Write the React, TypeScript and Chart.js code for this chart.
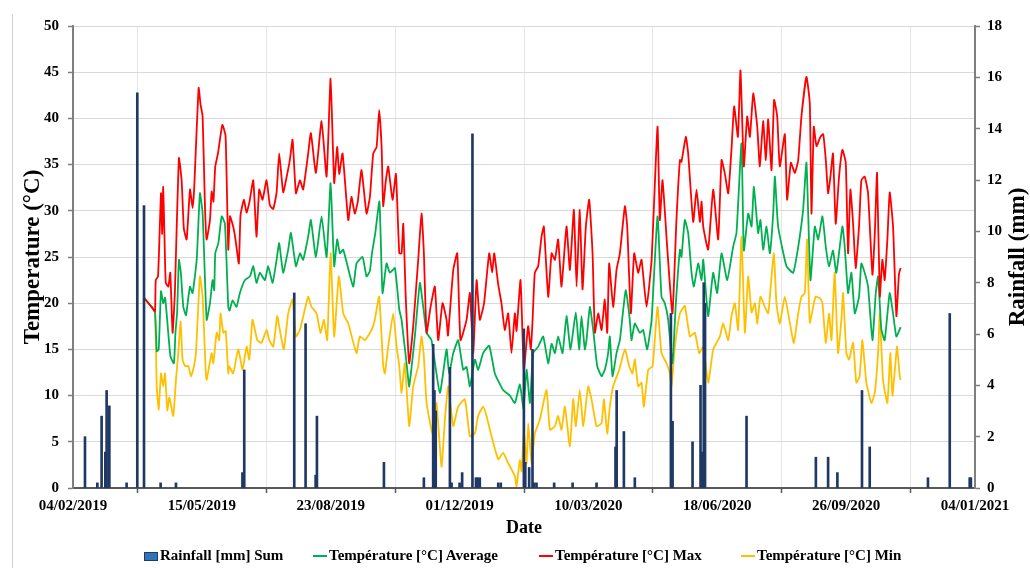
import React, { useEffect, useRef } from 'react';
import { Chart, registerables } from 'chart.js';

Chart.register(...registerables);

// x = days since 04/02/2019
const xTickLabels = ['04/02/2019', '15/05/2019', '23/08/2019', '01/12/2019', '10/03/2020', '18/06/2020', '26/09/2020', '04/01/2021'];

const rainfall: [number, number][] = [
  [9.3, 2.0], [18.9, 0.2], [22.2, 2.8], [25.1, 1.4], [26.1, 3.8], [28.2, 3.2], [41.6, 0.2], [49.9, 15.4], [55.1, 11.0],
  [68, 0.2], [79.9, 0.2], [131.5, 0.6], [132.9, 4.6], [171.7, 7.6], [180.5, 6.4], [188.3, 0.5], [189.3, 2.8], [241.3, 1.0],
  [272.3, 0.4], [279.5, 5.6], [280.5, 3.8], [281.5, 3.0], [292.5, 4.7], [293.8, 0.2], [300, 0.2], [302, 0.6], [310, 13.8],
  [312.7, 0.4], [314, 0.4], [315.7, 0.4], [330, 0.2], [332, 0.2], [349.9, 6.2], [351, 1.0], [354, 0.8], [356.6, 5.4],
  [357.8, 0.2], [359.7, 0.2], [373.4, 0.2], [387.7, 0.2], [406.3, 0.2], [421, 1.6], [421.9, 3.8], [427.5, 2.2], [436, 0.4],
  [464, 6.8], [465.3, 2.6], [480.8, 1.8], [487, 4.0], [488.3, 1.4], [489.5, 8.0], [490.5, 7.2], [522.7, 2.8], [576.5, 1.2],
  [586, 1.2], [593.2, 0.6], [612.3, 3.8], [618.3, 1.6], [663.5, 0.4], [680.4, 6.8], [695.9, 0.4], [696.8, 0.4],
];

const tempMax: [number, number][] = [
  [55, 20.6], [58, 20.1], [61, 19.6], [63.6, 19.1], [64.2, 22.5], [66, 22.9], [68.3, 31.9], [69.2, 27.5], [70, 32.6], [71, 27.2],
  [72, 22.2], [74, 21.8], [75.5, 23.3], [77.3, 16.8], [79, 21], [82.2, 35.7], [84.3, 33.3], [86, 28.1], [88.2, 26.9], [90.8, 32.3],
  [92.8, 30.3], [94, 32.3], [97.5, 43.3], [99, 41.5], [100.6, 40.2], [102.4, 30.5], [103.7, 26.9], [106.3, 29], [107.6, 32.1], [109, 31],
  [110.4, 34.8], [112.5, 36.2], [115.9, 39.3], [118.4, 38.1], [120.5, 25.8], [121.8, 29.4], [124.3, 28.3], [126, 27], [128.7, 24.3], [130, 29.5],
  [132.6, 31.2], [134.7, 29.8], [137, 31], [139.9, 33.3], [142.4, 27.2], [144.5, 32.3], [147.1, 31.2], [150.2, 33.3], [152.8, 30.6], [155.4, 30.2],
  [158, 32], [160, 36.2], [163.1, 32], [165.7, 33.6], [168.3, 35.5], [170.4, 37.7], [173, 31.9], [176.1, 33.3], [178.6, 32.3], [182.5, 36.2],
  [184.6, 38.4], [188.5, 34.1], [192.9, 39.7], [196.8, 33.7], [199.9, 44.3], [202.7, 33], [205, 36.9], [206.6, 34], [209.2, 36.2], [213.6, 29],
  [216.1, 31.5], [218.7, 29.7], [221, 31], [223.9, 34.4], [227.8, 29.7], [230.4, 31.5], [233, 36.2], [235.6, 36.9], [237.6, 40.9], [239.5, 36.9],
  [240.7, 30.5], [242.8, 33.3], [244.6, 34.8], [248, 31.2], [250.6, 34], [253.2, 25.4], [255, 25.4], [256.3, 28.6], [258.3, 20.4], [260.9, 13.5],
  [264, 17.5], [267.9, 24.7], [270.5, 29.7], [272.3, 25.4], [274.4, 16.8], [277.5, 19.6], [280.8, 21.8], [283.4, 16], [286.8, 20], [289.9, 18.2],
  [291, 16.5], [295.1, 23.6], [298.2, 25.4], [300.7, 16], [305.4, 18.2], [308, 21.1], [310.6, 14.6], [313.2, 22.5], [315.7, 18.2], [319, 20],
  [323, 25.4], [325.3, 23.3], [326.9, 25.4], [330, 22], [332.5, 20], [335.1, 17.1], [337.7, 18.9], [340.3, 14.6], [342.9, 18.9], [344.2, 17],
  [347.3, 22.5], [349.9, 12.8], [353.2, 17.5], [355.3, 15], [356.6, 18], [358.4, 23.3], [361, 24], [363.6, 27.2], [365.4, 28.3], [368.8, 20.7],
  [371.4, 25.4], [374, 24.7], [376.5, 26.9], [379.1, 21.8], [383, 28.3], [385.6, 23.6], [388.7, 30.1], [390.8, 21.8], [393.3, 30.1], [395.4, 21.5],
  [398, 28.3], [400.6, 31.2], [403.2, 25.4], [405, 16.8], [407.6, 18.9], [410.2, 17.1], [412.7, 20.4], [414.6, 16.8], [416.1, 24.3], [419.2, 19.6],
  [421.8, 23.6], [424.4, 25.4], [428.3, 30.5], [430.1, 28.3], [432.9, 18.9], [435.5, 25.4], [438.6, 23.3], [441.2, 24.7], [445.1, 19.6], [449, 24.7],
  [453.6, 39.1], [455.4, 29], [457.5, 33.3], [461.1, 26.1], [465.2, 18.9], [468.3, 29], [471, 35.5], [472.2, 35.3], [475.6, 38], [477.4, 36.2],
  [481.3, 28.8], [483.9, 32.3], [486.5, 28.8], [487.8, 31], [489.1, 28.3], [492.9, 25.8], [496.8, 32.3], [500.7, 26.9], [503.3, 35.5], [505.9, 34],
  [508.5, 31.9], [511, 36.6], [513.1, 41.3], [516, 38], [518, 45.2], [520.6, 34.8], [523.2, 40.2], [525.3, 38], [527.9, 42.7], [531, 39.1],
  [533, 34.8], [535.6, 39.7], [537.7, 35.5], [539.5, 39.9], [542.1, 34.4], [544.1, 42], [546.5, 40.2], [548.5, 34.8], [552.4, 38.3], [554.2, 31.2],
  [557.1, 35.2], [560.2, 34.1], [562.8, 35.5], [565.3, 40.2], [569.2, 44.5], [571.8, 41.6], [573.1, 29.7], [574.9, 39.1], [577, 37], [580, 38],
  [582.2, 38.3], [584.2, 35.5], [586, 31.9], [587.8, 33.7], [589.8, 36.2], [591.9, 28.6], [594.5, 33.7], [597.1, 36.6], [599.7, 35.2], [601.5, 25.4],
  [603.3, 32.3], [605.4, 28.6], [607.4, 23.8], [610, 28.3], [611.8, 33.3], [614.4, 33.7], [617, 31.9], [620.4, 23.1], [622.2, 27.4], [624, 34.1],
  [626.1, 20.7], [628.1, 24.7], [629.9, 22.5], [632, 26.9], [633.8, 32], [636.4, 28.3], [639, 18.6], [641, 23.2], [642.3, 23.8],
];

const tempAvg: [number, number][] = [
  [55, 20.6], [58, 20.1], [61, 19.6], [63.6, 19.1], [65, 14.8], [66.5, 15], [68.3, 21.3], [70, 20], [71.5, 20.6], [74.4, 16],
  [75.7, 14.2], [78.3, 13.5], [79.5, 16.8], [80.8, 19], [82.2, 24.7], [83.7, 23.3], [85.6, 19.6], [87.7, 18.7], [89.5, 20.6], [90.8, 21.8],
  [92.8, 21.1], [96, 24.7], [98.5, 31.9], [100.6, 29.7], [103.7, 18.2], [106.3, 20], [108.3, 22.5], [109.6, 21.4], [110.4, 25.4], [112.8, 26.5],
  [115.4, 29.4], [117.9, 28.6], [120.5, 19.6], [121.5, 19.2], [123.8, 20.3], [126.9, 19.6], [129.5, 21.1], [133.4, 22.5], [137.3, 22.9], [139.9, 24],
  [142.4, 22.2], [145, 23.3], [148.9, 22.5], [151.5, 24], [154.9, 22.2], [158, 24.7], [160, 26.5], [163.1, 23.3], [167, 25.8], [169.1, 27.6],
  [173, 24], [176.1, 25.4], [178.6, 24.7], [182.5, 27.2], [184.6, 29], [188.5, 25], [192.9, 29.4], [196.8, 25], [199.9, 33], [202.7, 24],
  [205, 26.9], [207.1, 25.4], [209.7, 25.8], [217.4, 21.8], [220, 24.3], [224.7, 25], [227.8, 22.9], [230.4, 23.5], [232, 25.4], [234.5, 27.5],
  [237.8, 31], [240.2, 21.1], [243.3, 24.3], [245.9, 23.3], [249.8, 23.8], [253.2, 19.3], [255, 18.2], [259.4, 12.8], [260.9, 11], [265.3, 16.4],
  [269.2, 22.2], [271.8, 19.6], [274.4, 16.8], [278.2, 16], [284.7, 10.3], [289.9, 15], [291.9, 12.4], [295.1, 14.6], [298.9, 16], [302.8, 12.8],
  [305.4, 13.1], [308, 11], [311.9, 13.9], [314.4, 12.8], [318.3, 14.6], [323, 15.4], [327.4, 12.4], [333.8, 10.6], [339, 10], [342.9, 9.2],
  [346.8, 11.2], [349.6, 8.6], [352, 12.8], [354.6, 9.2], [357.1, 14.6], [361, 15.3], [364.9, 16.4], [368.8, 13.5], [371.4, 15.6], [374, 14.6],
  [376.5, 16.4], [379.9, 14.6], [383, 18.6], [386.1, 15], [390.2, 19], [392.8, 15], [394.6, 18.6], [397.2, 15], [398.5, 16], [401.1, 19.6],
  [403.7, 17.1], [406.8, 13.2], [410.2, 12.1], [412.7, 12.8], [415.3, 14.6], [416.6, 16.4], [418.7, 12.1], [421.8, 14.6], [424.4, 16], [427, 19.3],
  [429, 21.4], [432.1, 18.2], [433.4, 16], [436, 17.8], [439.9, 16.8], [442.5, 17.1], [445.6, 15], [449, 18.2], [453.6, 29.4], [456.7, 20.7],
  [459.3, 20], [461.9, 18.2], [465.2, 13.5], [467.8, 19.9], [471, 25.8], [472.2, 25], [474.8, 29], [477.4, 27.6], [480, 23.3], [481.8, 21.8],
  [485.2, 24.3], [487.8, 22.5], [489.1, 24.7], [492.9, 18.6], [496.8, 23.3], [499.9, 21.1], [503.3, 25.4], [507.7, 22.5], [512.3, 26.1], [514.9, 27.6],
  [518.8, 37.3], [520.6, 25.7], [524, 29.7], [526.6, 28.3], [528.4, 32.6], [531.7, 27.6], [533.5, 29], [535.6, 25.8], [538.2, 28.3], [540.8, 25.4],
  [543.4, 29.7], [544.7, 33.7], [547.2, 28.3], [553.7, 24], [558.9, 23.3], [562.8, 26.1], [566.6, 30.1], [569.2, 35.2], [572.3, 22.5], [575.7, 28.3],
  [578.3, 26.9], [581.6, 29.4], [584.2, 26.1], [586.7, 24], [589.8, 25.7], [592.4, 23.3], [597.1, 28.3], [598.9, 26.1], [601.5, 21.1], [604.1, 23.3],
  [606.7, 18.9], [610, 20.7], [611.8, 24.3], [614.4, 23.3], [617, 21.8], [620.4, 16], [623, 21.1], [624.8, 22.9], [627.3, 17.2], [629.9, 16],
  [633.8, 21.1], [636.4, 18.9], [639, 16.4], [642.3, 17.4],
];

const tempMin: [number, number][] = [
  [55, 20.6], [58, 20.1], [61, 19.6], [63.6, 19.1], [65, 11], [66.5, 8.5], [68.3, 12.4], [70, 11], [71.4, 12.4], [73.2, 8.4],
  [74.8, 9.8], [77.8, 7.8], [79.9, 11.7], [81.7, 14.6], [83.5, 18], [85, 13.9], [86.9, 13.2], [89.5, 13.2], [91.5, 12.1], [93.3, 12.8],
  [95.4, 14.6], [98.5, 22.9], [100.6, 20.7], [102.9, 12.8], [103.7, 11.7], [107.6, 14.6], [108.9, 13.5], [111.5, 16.8], [113.5, 16], [114.5, 18.9],
  [116.6, 16.8], [118.5, 17], [120.5, 12.4], [121.2, 13.2], [124.3, 12.4], [128.2, 15], [131.6, 12.8], [134.7, 15.3], [136.8, 13.9], [139.3, 18.2],
  [143, 16], [146.3, 15.7], [150.2, 17.1], [152.3, 16], [155.4, 15.3], [158.5, 18.6], [160.5, 17.1], [163.6, 15], [167, 18.9], [170.4, 20.4],
  [173, 16.4], [176.1, 17.1], [179.2, 18.9], [182.5, 20.7], [185.1, 19.6], [189, 18.9], [192.1, 16.8], [194.7, 18.2], [197.3, 16], [199.9, 25.4],
  [202.7, 16.4], [206.3, 22.9], [209.7, 18.9], [213.6, 17.8], [220, 14.6], [222.6, 16.4], [226.5, 16], [231.7, 17.1], [234.2, 18.2], [237.6, 20.7],
  [240.7, 13.2], [242, 12.4], [244.6, 15.3], [248.5, 18.9], [251.1, 15.3], [253.2, 13.2], [255, 10.3], [257.5, 13.5], [260.9, 6.7], [264, 11],
  [267.9, 13.2], [270.5, 16.4], [272.3, 14.2], [274.4, 9.2], [279.5, 5.6], [282.1, 9.2], [286, 2.3], [288.6, 7.4], [291.2, 11], [295.1, 6.7],
  [298.9, 8.8], [304.1, 9.6], [308, 5.6], [311.9, 5.9], [314.4, 7.8], [318.3, 8.8], [320.9, 7.8], [324.8, 5.6], [330, 3.1], [333.8, 3.8],
  [337.7, 2.7], [342.9, 1.3], [344.2, 0.2], [346.8, 3], [348.1, 1.8], [349.9, 6], [352, 2.7], [353.3, 7], [355.9, 2.7], [358.4, 5.9],
  [362.3, 7.4], [367.5, 10.6], [370.1, 6.3], [374, 6.7], [376.5, 7.8], [379.1, 6.3], [381.7, 8.8], [385.6, 4.5], [388.2, 9.6], [390.2, 6.7],
  [393.3, 10.6], [396, 6.7], [399.8, 11], [402.4, 9.6], [406.3, 6.7], [410.2, 7], [412, 9.6], [414.6, 5.9], [416.6, 8.8], [419.2, 11],
  [423.9, 12.8], [428.3, 15], [431.6, 13.2], [434.2, 12.4], [436, 13.9], [438.6, 11], [441.2, 11.4], [443, 8.8], [446.4, 12.8], [449.8, 13.2],
  [453.6, 19.6], [456.7, 14.6], [460.6, 13.5], [463.2, 12.4], [464.5, 11], [467.1, 15.3], [471, 18.9], [474.8, 19.7], [478.7, 16.4], [482.6, 16.8],
  [486, 14.6], [489.1, 15.3], [492.9, 11.4], [496.8, 15], [499.4, 15.7], [502, 16.4], [504.6, 17.8], [508.5, 16], [511, 18.6], [513.6, 20],
  [516.2, 17.1], [518.8, 27.2], [521.4, 16.8], [524, 22.9], [526.6, 19], [529.2, 20], [531, 17.8], [533.5, 20.7], [536.9, 19.6], [539.5, 18.9],
  [540.8, 20.7], [543.9, 25.4], [545.9, 20], [548.5, 17.8], [552.4, 20.7], [556.3, 17.9], [559.4, 15.7], [562.8, 18.9], [565.3, 20.7], [567.9, 21.1],
  [569.7, 26.9], [571.8, 17.9], [576.2, 20.7], [580, 20.5], [581.6, 20], [584.2, 15.7], [586.7, 18.9], [588.6, 16], [591.1, 23.3], [593.7, 14.6],
  [596.3, 18.2], [597.6, 21.1], [600.2, 14.6], [602.3, 13.9], [605.4, 15.7], [607.9, 11.4], [610.5, 12.1], [612.6, 16], [615.7, 11.4], [619.6, 9.2],
  [622.2, 10.3], [624.8, 14.6], [626.1, 18.9], [628.6, 11.7], [632, 9.2], [634.3, 14.6], [635.9, 10], [638.5, 13.9], [639.5, 15.3], [641.6, 12.1],
  [642.3, 11.7],
];

const seriesLabels = ['Rainfall [mm] Sum', 'Température [°C] Average', 'Température [°C] Max', 'Température [°C] Min'];
const seriesColors = ['#1F3864', '#00B050', '#FF0000', '#FFC000'];

const FONT = '"Liberation Serif", "Times New Roman", serif';

const toPts = (arr: [number, number][]) => arr.map(([x, y]) => ({ x, y }));

const rightTitlePlugin = {
  id: 'rightTitle',
  afterDraw(chart: any) {
    const { ctx, chartArea } = chart;
    const s = chart.scales.y1;
    ctx.save();
    ctx.translate(s.right - 12, (chartArea.top + chartArea.bottom) / 2);
    ctx.rotate(-Math.PI / 2);
    ctx.font = `bold 23px ${FONT}`;
    ctx.fillStyle = '#000';
    ctx.textAlign = 'center';
    ctx.textBaseline = 'middle';
    ctx.fillText('Rainfall (mm)', 0, 0);
    ctx.restore();
  },
};

export default function App() {
  const ref = useRef<HTMLCanvasElement | null>(null);

  useEffect(() => {
    if (!ref.current) return;
    const tickFont = { family: FONT, size: 15, weight: 'bold' as const };
    const lineDs = (i: number, data: [number, number][], order: number) => ({
      label: seriesLabels[i],
      data: toPts(data) as any,
      yAxisID: 'y',
      borderColor: seriesColors[i],
      backgroundColor: seriesColors[i],
      borderWidth: 1.8,
      pointRadius: 0,
      tension: 0.15,
      order,
    });
    const chart = new Chart(ref.current, {
      type: 'line',
      data: {
        datasets: [
          {
            type: 'bar',
            label: seriesLabels[0],
            data: toPts(rainfall) as any,
            yAxisID: 'y1',
            backgroundColor: seriesColors[0],
            barThickness: 2,
            order: 0,
          } as any,
          lineDs(1, tempAvg, 2),
          lineDs(2, tempMax, 1),
          lineDs(3, tempMin, 3),
        ],
      },
      options: {
        responsive: false,
        animation: false,
        events: [],
        layout: { padding: { top: 26, bottom: 28, left: 0, right: 0 } },
        plugins: { legend: { display: false }, tooltip: { enabled: false } },
        scales: {
          x: {
            type: 'linear',
            min: 0,
            max: 700,
            offset: false,
            ticks: {
              stepSize: 100,
              autoSkip: false,
              maxRotation: 0,
              color: '#000',
              font: tickFont,
              padding: 4,
              callback: (v: any) => xTickLabels[Math.round(Number(v) / 100)] ?? '',
            },
            grid: { color: '#e6e6e6', lineWidth: 1, tickLength: 5, tickColor: '#595959', tickWidth: 1.5 },
            border: { color: '#595959', width: 2 },
            title: { display: true, text: 'Date', color: '#000', font: { family: FONT, size: 18, weight: 'bold' }, padding: { top: 0, bottom: 1 } },
            afterFit: (s: any) => { s.height = 52; },
          },
          y: {
            position: 'left',
            min: 0,
            max: 50,
            ticks: { stepSize: 5, color: '#000', font: tickFont, padding: 9 },
            grid: { color: '#d9d9d9', lineWidth: 1, tickLength: 5, tickColor: '#7f7f7f', tickWidth: 1.5 },
            border: { color: '#7f7f7f', width: 2 },
            title: { display: true, text: 'Temperature (°C)', color: '#000', font: { family: FONT, size: 23, weight: 'bold' }, padding: { top: 19, bottom: 0 } },
            afterFit: (s: any) => { s.width = 73; },
          },
          y1: {
            position: 'right',
            min: 0,
            max: 18,
            ticks: { stepSize: 2, color: '#000', font: tickFont, padding: 7 },
            grid: { drawOnChartArea: false, tickLength: 5, tickColor: '#7f7f7f', tickWidth: 1.5 },
            border: { color: '#7f7f7f', width: 2 },
            afterFit: (s: any) => { s.width = 55; },
          },
        },
      } as any,
      plugins: [rightTitlePlugin],
    });
    return () => chart.destroy();
  }, []);

  const legendText: React.CSSProperties = {
    position: 'absolute',
    top: 547,
    lineHeight: '18px',
    font: `bold 15px ${FONT}`,
    color: '#000',
    whiteSpace: 'nowrap',
  };
  const lineMark = (left: number, color: string): React.CSSProperties => ({
    position: 'absolute', left, top: 555, width: 14, height: 2, background: color,
  });

  return (
    <div style={{ position: 'fixed', left: 0, top: 0, width: 1030, height: 568, background: '#fff', overflow: 'hidden' }}>
      <canvas ref={ref} width={1030} height={568} style={{ position: 'absolute', left: 0, top: 0 }} />
      <div style={{ position: 'absolute', left: 12, top: 14, width: 1, height: 554, background: '#d0d0d0' }} />
      <div style={{ position: 'absolute', left: 144, top: 552, width: 14, height: 9, boxSizing: 'border-box', background: '#2E75B6', border: '1px solid #1F3864' }} />
      <span style={{ ...legendText, left: 160 }}>{seriesLabels[0]}</span>
      <div style={lineMark(313, seriesColors[1])} />
      <span style={{ ...legendText, left: 329 }}>{seriesLabels[1]}</span>
      <div style={lineMark(539, seriesColors[2])} />
      <span style={{ ...legendText, left: 555 }}>{seriesLabels[2]}</span>
      <div style={lineMark(741, seriesColors[3])} />
      <span style={{ ...legendText, left: 757 }}>{seriesLabels[3]}</span>
    </div>
  );
}
